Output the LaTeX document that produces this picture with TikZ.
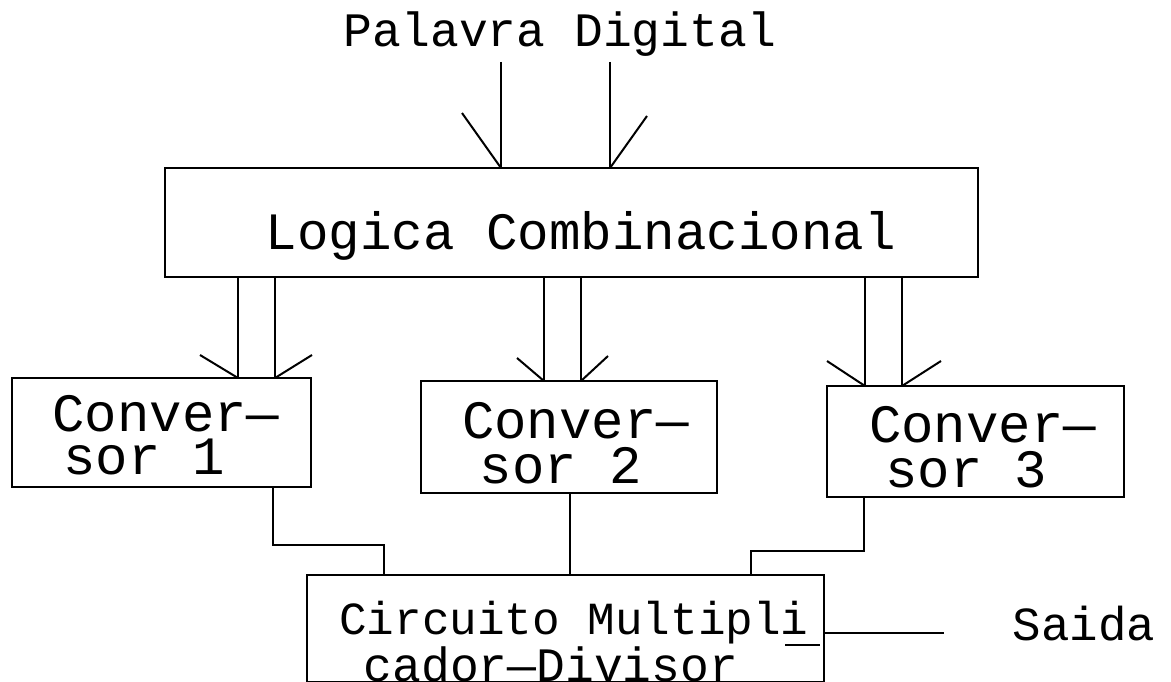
\documentclass[tikz,border=0pt]{standalone}
\usepackage{fontspec}
\newfontfamily\monofnt{Liberation Mono}
\tikzset{
  box/.style={draw, line width=2.6pt, rectangle, inner sep=0pt, outer sep=0pt},
  wire/.style={line width=2.6pt},
  barb/.style={line width=2pt},
  lbl/.style={inner sep=0pt, outer sep=0pt, anchor=base},
  convlbl/.style={inner sep=0pt, outer sep=0pt, anchor=base west, align=left},
}
\begin{document}
\begin{tikzpicture}[x=1pt,y=-1pt]
\useasboundingbox (0,0) rectangle (1171,682);
\fill[white] (0,0) rectangle (1171,682);
\clip (0,0) rectangle (1171,682);

% boxes
\node[box, minimum width=813pt, minimum height=109pt] (L)  at (571.5,222.5) {};
\node[box, minimum width=299pt, minimum height=109pt] (C1) at (161.5,432.5) {};
\node[box, minimum width=296pt, minimum height=112pt] (C2) at (569,437) {};
\node[box, minimum width=297pt, minimum height=111pt] (C3) at (975.5,441.5) {};
\node[box, minimum width=517pt, minimum height=107pt] (M)  at (565.5,628.5) {};

% texts
\node[lbl, font=\monofnt\fontsize{48pt}{50pt}\selectfont] (tP) at (560,47) {Palavra Digital};
\node[lbl, font=\monofnt\fontsize{52.5pt}{55pt}\selectfont] (tL) at (581,250) {Logica Combinacional};
\node[convlbl, font=\monofnt\fontsize{54pt}{43pt}\selectfont] (t1) at (52.5,474) {Conver—\\\hspace*{0.2em}sor 1};
\node[convlbl, font=\monofnt\fontsize{54pt}{45pt}\selectfont] (t2) at (462,483) {Conver—\\\hspace*{0.33em}sor 2};
\node[convlbl, font=\monofnt\fontsize{54pt}{45pt}\selectfont] (t3) at (869,487) {Conver—\\\hspace*{0.3em}sor 3};
\node[lbl, font=\monofnt\fontsize{46pt}{50pt}\selectfont] (tM1) at (574,634) {Circuito Multipli};
\node[lbl, font=\monofnt\fontsize{48pt}{50pt}\selectfont] (tM2) at (551,681) {cador—Divisor};
\node[lbl, font=\monofnt\fontsize{47.5pt}{50pt}\selectfont] (tS) at (1084,640) {Saida};
\draw[barb] (785,645) -- (820,645);

% coordinates
\coordinate (i1) at (501,62);
\coordinate (i2) at (610,62);
\coordinate (a1) at (238,0);
\coordinate (a2) at (275,0);
\coordinate (a3) at (544,0);
\coordinate (a4) at (581,0);
\coordinate (a5) at (865,0);
\coordinate (a6) at (902,0);
\coordinate (k1) at (273,0);
\coordinate (b1) at (384,545);
\coordinate (k2) at (570,0);
\coordinate (k3) at (864,0);
\coordinate (b3) at (751,551);
\coordinate (o) at (944,633);

% inputs
\draw[wire] (i1) -- (i1 |- L.north);
\draw[barb] (i1 |- L.north) -- ++(-39,-55);
\draw[wire] (i2) -- (i2 |- L.north);
\draw[barb] (i2 |- L.north) -- ++(37,-52);

% logica -> conversores
\draw[wire] (a1 |- L.south) -- (a1 |- C1.north);
\draw[barb] (a1 |- C1.north) -- ++(-38,-23);
\draw[wire] (a2 |- L.south) -- (a2 |- C1.north);
\draw[barb] (a2 |- C1.north) -- ++(37,-23);
\draw[wire] (a3 |- L.south) -- (a3 |- C2.north);
\draw[barb] (a3 |- C2.north) -- ++(-27,-23);
\draw[wire] (a4 |- L.south) -- (a4 |- C2.north);
\draw[barb] (a4 |- C2.north) -- ++(27,-25);
\draw[wire] (a5 |- L.south) -- (a5 |- C3.north);
\draw[barb] (a5 |- C3.north) -- ++(-38,-25);
\draw[wire] (a6 |- L.south) -- (a6 |- C3.north);
\draw[barb] (a6 |- C3.north) -- ++(39,-25);

% conversores -> circuito
\draw[wire] (k1 |- C1.south) |- (b1) -- (b1 |- M.north);
\draw[wire] (k2 |- C2.south) -- (k2 |- M.north);
\draw[wire] (k3 |- C3.south) |- (b3) -- (b3 |- M.north);

% output
\draw[wire] (o -| M.east) -- (o);
\end{tikzpicture}
\end{document}
